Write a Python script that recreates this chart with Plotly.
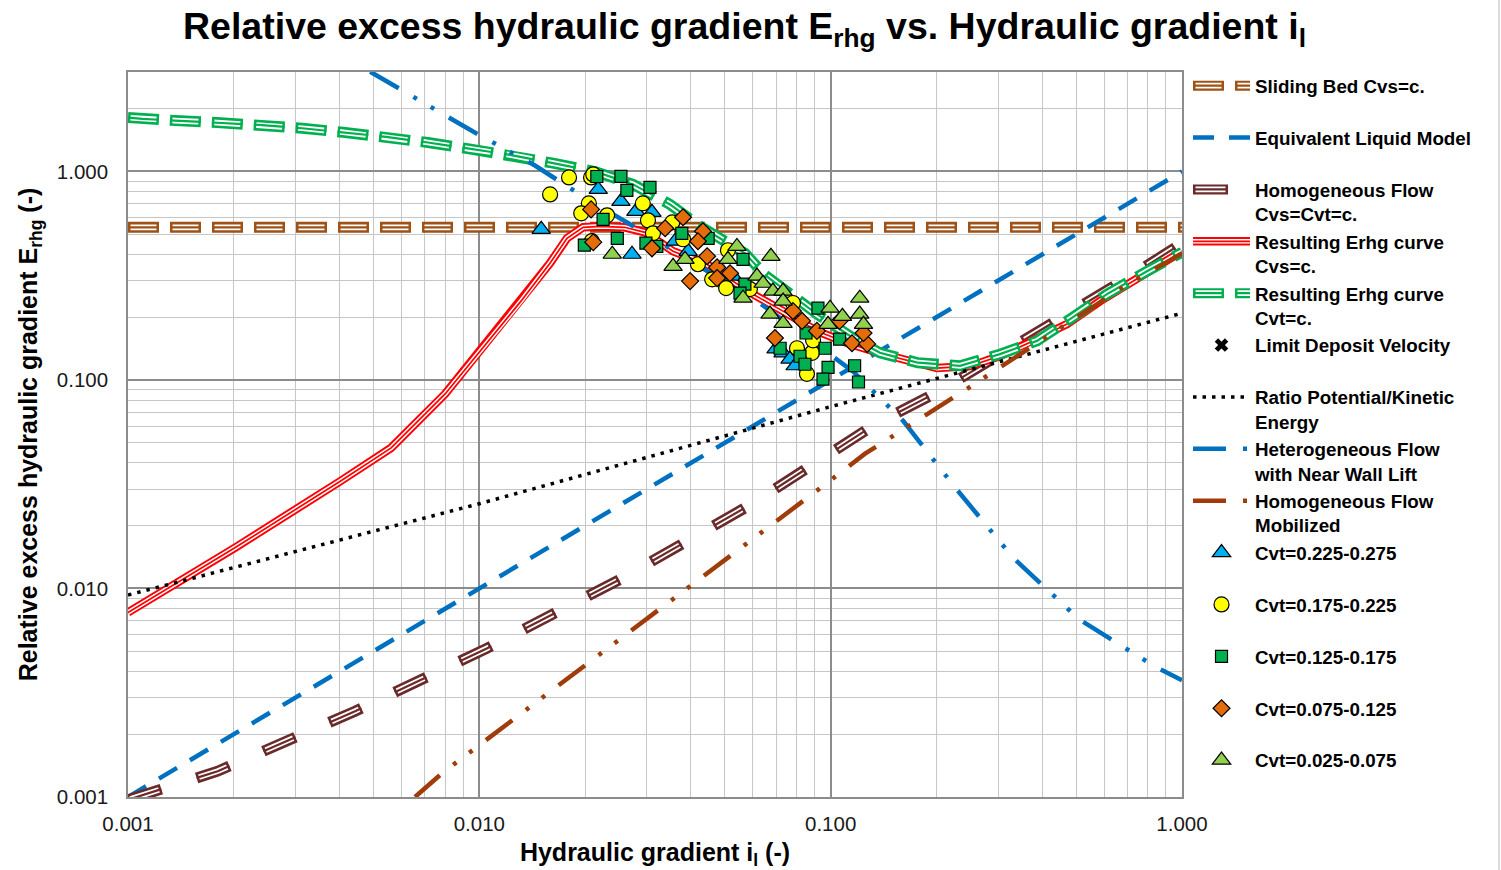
import plotly.graph_objects as go

# ---------------- data ----------------
# Model curves (hydraulic gradient il -> relative excess hydraulic gradient Erhg)
sliding_bed_x = [0.001, 1.0]
sliding_bed_y = [0.54, 0.54]

elm_x = [0.001, 1.0]
elm_y = [0.001, 1.0]

homog_x = [0.001, 0.0018, 0.00443, 0.0105, 0.0255, 0.0598, 0.1345, 0.202, 0.698, 1.0]
homog_y = [0.00097, 0.00133, 0.00258, 0.00516, 0.0112, 0.0255, 0.0616, 0.0877, 0.308, 0.452]

res_cvs_x = [0.001, 0.00202, 0.00404, 0.00561, 0.00799, 0.00991, 0.01314, 0.01589, 0.01776,
             0.01974, 0.02206, 0.0259, 0.02962, 0.03558, 0.04447, 0.05273, 0.06011, 0.07318,
             0.09144, 0.1135, 0.1408, 0.2007, 0.2492, 0.3033, 0.3766, 0.4707, 0.5843, 0.7253,
             0.9064, 1.0]
res_cvs_y = [0.00768, 0.01572, 0.03286, 0.04727, 0.08571, 0.1332, 0.2388, 0.363, 0.4782,
             0.54, 0.545, 0.54, 0.5108, 0.4143, 0.359, 0.2978, 0.258, 0.2139,
             0.1716, 0.1487, 0.1332, 0.1141, 0.1165, 0.1303, 0.1537, 0.1854, 0.2388, 0.2978,
             0.3711, 0.4143]

res_cvt_x = [0.001, 0.0011, 0.00136, 0.00179, 0.00236, 0.00313, 0.00409, 0.00543, 0.00714,
             0.00935, 0.01223, 0.01621, 0.02133, 0.02738, 0.03489, 0.04247, 0.05704, 0.06505,
             0.0818, 0.09144, 0.1158, 0.1381, 0.1772, 0.2335, 0.3033, 0.3867, 0.4801, 0.6116,
             0.7948, 1.0]
res_cvt_y = [1.813, 1.787, 1.754, 1.716, 1.673, 1.612, 1.542, 1.466, 1.377,
             1.284, 1.202, 1.096, 1.0, 0.867, 0.695, 0.546, 0.405, 0.318,
             0.239, 0.207, 0.159, 0.135, 0.121, 0.117, 0.133, 0.154, 0.196, 0.258,
             0.332, 0.41]

# no deposit-limit point falls inside the plotted window
ldv_x = [None]
ldv_y = [None]

ratio_x = [0.001, 0.01, 0.1, 1.0]
ratio_y = [0.0093, 0.0255, 0.0745, 0.209]

hetero_x = [0.00489, 0.0096, 0.0144, 0.01973, 0.02685, 0.06166, 0.1158, 0.1608, 0.2264,
            0.3304, 0.5094, 0.8437, 1.0]
hetero_y = [3.01, 1.554, 1.068, 0.759, 0.558, 0.239, 0.110, 0.0637, 0.0304,
            0.01407, 0.00711, 0.00419, 0.00363]

mobil_x = [0.00656, 0.00783, 0.0996, 0.1253, 0.2492, 0.6797, 1.0]
mobil_y = [0.001, 0.0013, 0.0329, 0.0443, 0.0926, 0.2787, 0.405]

# Measurements grouped by delivered volumetric concentration
cvt1_x = [0.0150, 0.0218, 0.0253, 0.0279, 0.0272, 0.0310, 0.0361, 0.0393, 0.0527, 0.0699,
          0.0732, 0.0766, 0.0792]
cvt1_y = [0.528, 0.820, 0.719, 0.644, 0.401, 0.637, 0.463, 0.414, 0.315, 0.141,
          0.135, 0.126, 0.117]

cvt2_x = [0.0159, 0.0180, 0.0208, 0.0211, 0.0205, 0.0195, 0.0231, 0.0209, 0.0292, 0.0302,
          0.0312, 0.0354, 0.0380, 0.0419, 0.0460, 0.0504, 0.0510, 0.0589, 0.0781, 0.0802,
          0.0885, 0.0856, 0.0891]
cvt2_y = [0.776, 0.936, 0.936, 0.968, 0.703, 0.630, 0.616, 0.463, 0.703, 0.583,
          0.505, 0.570, 0.473, 0.359, 0.304, 0.276, 0.419, 0.273, 0.234, 0.142,
          0.135, 0.107, 0.155]

cvt3_x = [0.0216, 0.0253, 0.0306, 0.0263, 0.0225, 0.0247, 0.0199, 0.0298, 0.0320, 0.0377,
          0.0448, 0.0563, 0.0570, 0.0552, 0.0920, 0.0851, 0.0718, 0.0964, 0.0818, 0.0845,
          0.0983, 0.0951, 0.117, 0.120, 0.106]
cvt3_y = [0.946, 0.947, 0.839, 0.811, 0.589, 0.478, 0.443, 0.453, 0.437, 0.505,
          0.478, 0.379, 0.288, 0.261, 0.221, 0.168, 0.142, 0.142, 0.130, 0.119,
          0.115, 0.101, 0.117, 0.0978, 0.157]

cvt4_x = [0.0208, 0.0211, 0.0380, 0.0338, 0.0310, 0.0433, 0.0419, 0.0398, 0.0445, 0.0475,
          0.0517, 0.0475, 0.0781, 0.0829, 0.0694, 0.0914, 0.115, 0.127, 0.124, 0.106]
cvt4_y = [0.658, 0.458, 0.603, 0.534, 0.428, 0.517, 0.463, 0.298, 0.392, 0.347,
          0.325, 0.308, 0.214, 0.192, 0.159, 0.172, 0.150, 0.149, 0.168, 0.192]

cvt5_x = [0.0239, 0.0356, 0.0385, 0.0541, 0.0510, 0.0676, 0.0617, 0.0642, 0.0563, 0.0685,
          0.0732, 0.0732, 0.0672, 0.0732, 0.0996, 0.108, 0.121, 0.121, 0.124, 0.0983]
cvt5_y = [0.401, 0.351, 0.379, 0.437, 0.379, 0.392, 0.315, 0.291, 0.247, 0.267,
          0.267, 0.239, 0.207, 0.187, 0.221, 0.202, 0.247, 0.207, 0.185, 0.185]

# ---------------- styling ----------------
FONT = "Liberation Sans, Arial, sans-serif"

# legend.maxheight lets the 14-row legend run past the default height limit
try:
    go.layout.Legend(maxheight=860)
    LEG_EXTRA = dict(maxheight=860)
    LEG_SIZE = 18.8
    LEG_Y = 1.007
except ValueError:
    LEG_EXTRA = {}
    LEG_SIZE = 18.4
    LEG_Y = 1.0

BLANK = "<br>\u00a0"
EMPTY_NAME = "\u00a0<br>\u00a0"

fig = go.Figure()


def compound(x, y, name, color, width, dash, inner_dash, white=0.52, core=0.2):
    """Triple compound line: coloured outer, white stripe, thin coloured core.
    The white stripe uses a shorter, shifted dash so the coloured rim closes
    around each dash end."""
    fig.add_trace(go.Scatter(x=x, y=y, mode="lines", name=name, legend="legend",
                             line=dict(color=color, width=width, dash=dash)))
    fig.add_trace(go.Scatter(x=x, y=y, mode="lines", name=EMPTY_NAME, legend="legend2",
                             line=dict(color="white", width=width * white, dash=inner_dash)))
    fig.add_trace(go.Scatter(x=x, y=y, mode="lines", name=EMPTY_NAME, legend="legend3",
                             line=dict(color=color, width=width * core, dash=dash)))


def spacer():
    # keeps the stripe legends aligned row by row with the main legend
    for lg in ("legend2", "legend3"):
        fig.add_trace(go.Scatter(x=[None], y=[None], mode="lines", name=EMPTY_NAME, legend=lg,
                                 line=dict(color="rgba(0,0,0,0)", width=1)))


SHORT_DASH = "31px,11px"
SHORT_INNER = "0px,2.5px,26px,13.5px"
LONG_DASH = "35px,37px"
LONG_INNER = "0px,2.5px,30px,39.5px"

compound(sliding_bed_x, sliding_bed_y, "Sliding Bed Cvs=c." + BLANK, "#9E5216", 11,
         SHORT_DASH, SHORT_INNER)

fig.add_trace(go.Scatter(x=elm_x, y=elm_y, mode="lines", name="Equivalent Liquid Model" + BLANK,
                         legend="legend",
                         line=dict(color="#0070C0", width=4.5, dash="21px,15px")))
spacer()

compound(homog_x, homog_y, "Homogeneous Flow<br>Cvs=Cvt=c.", "#6A2A2A", 11,
         LONG_DASH, LONG_INNER)
compound(res_cvs_x, res_cvs_y, "Resulting Erhg curve<br>Cvs=c.", "#FF0000", 8.5,
         "solid", "solid", white=0.55, core=0.2)
compound(res_cvt_x, res_cvt_y, "Resulting Erhg curve<br>Cvt=c.", "#00B050", 11,
         SHORT_DASH, SHORT_INNER)

fig.add_trace(go.Scatter(x=ldv_x, y=ldv_y, mode="markers", name="Limit Deposit Velocity" + BLANK,
                         legend="legend",
                         marker=dict(symbol="x", size=12, color="black", line=dict(width=0))))

fig.add_trace(go.Scatter(x=ratio_x, y=ratio_y, mode="lines",
                         name="Ratio Potential/Kinetic<br>Energy", legend="legend",
                         line=dict(color="black", width=3.5, dash="3.5px,6px")))

dash_dot_dot = "33px,17px,4px,16px,4px,17px"
fig.add_trace(go.Scatter(x=hetero_x, y=hetero_y, mode="lines",
                         name="Heterogeneous Flow<br>with Near Wall Lift", legend="legend",
                         line=dict(color="#0070C0", width=4.5, dash=dash_dot_dot)))
fig.add_trace(go.Scatter(x=mobil_x, y=mobil_y, mode="lines",
                         name="Homogeneous Flow<br>Mobilized", legend="legend",
                         line=dict(color="#A03C0A", width=4.5, dash=dash_dot_dot)))

markers = [
    (cvt1_x, cvt1_y, "Cvt=0.225-0.275", "triangle-up", "#00B0F0", 16),
    (cvt2_x, cvt2_y, "Cvt=0.175-0.225", "circle", "#FFFF00", 15),
    (cvt3_x, cvt3_y, "Cvt=0.125-0.175", "square", "#00B050", 12),
    (cvt4_x, cvt4_y, "Cvt=0.075-0.125", "diamond", "#E46C0A", 13),
    (cvt5_x, cvt5_y, "Cvt=0.025-0.075", "triangle-up", "#92D050", 16),
]
for mx, my, nm, sym, col, sz in markers:
    fig.add_trace(go.Scatter(x=mx, y=my, mode="markers", name=nm + BLANK, legend="legend",
                             marker=dict(symbol=sym, size=sz, color=col,
                                         line=dict(color="black", width=1.2))))

axis_common = dict(
    type="log", dtick=1, tickformat=".3f",
    showgrid=True, gridcolor="#8C8C8C", gridwidth=1.5,
    minor=dict(dtick="D1", showgrid=True, gridcolor="#C6C6C6", gridwidth=1),
    showline=True, linecolor="#8C8C8C", linewidth=1.5, mirror=True,
    zeroline=False, ticks="outside", tickcolor="rgba(0,0,0,0)",
    tickfont=dict(family=FONT, size=20.5, color="#1a1a1a"),
    automargin=False,
)

legend_common = dict(x=1.0057, xanchor="left", y=LEG_Y, yanchor="top", valign="top",
                     itemwidth=57, tracegroupgap=0,
                     bgcolor="rgba(0,0,0,0)", borderwidth=0, **LEG_EXTRA)

fig.update_layout(
    width=1501, height=870,
    margin=dict(l=128, r=319, t=72, b=73),
    paper_bgcolor="white", plot_bgcolor="white",
    font=dict(family=FONT, color="black"),
    title=dict(
        text="Relative excess hydraulic gradient E<sub>rhg</sub> vs. Hydraulic gradient i<sub>l</sub>",
        x=0.496, xref="container", xanchor="center",
        y=0.97, yref="container", yanchor="middle",
        font=dict(family=FONT, size=37.5, weight="bold", color="black"),
    ),
    xaxis=dict(axis_common, range=[-3, 0], ticklen=8,
               title=dict(text="Hydraulic gradient i<sub>l</sub> (-)", standoff=18,
                          font=dict(family=FONT, size=25, weight="bold", color="black"))),
    yaxis=dict(axis_common, range=[-3, 0.4771], ticklen=14,
               title=dict(text="Relative excess hydraulic gradient E<sub>rhg</sub> (-)", standoff=12,
                          font=dict(family=FONT, size=25, weight="bold", color="black"))),
    legend=dict(legend_common, font=dict(family=FONT, size=LEG_SIZE, weight="bold", color="black")),
    legend2=dict(legend_common, font=dict(family=FONT, size=LEG_SIZE, weight="bold", color="black")),
    legend3=dict(legend_common, font=dict(family=FONT, size=LEG_SIZE, weight="bold", color="black")),
    shapes=[dict(type="line", xref="paper", yref="paper", x0=1.3008, x1=1.3008,
                 y0=-0.11, y1=1.11, line=dict(color="#D0D0D0", width=1.5))],
)

fig.write_html("out.html")
